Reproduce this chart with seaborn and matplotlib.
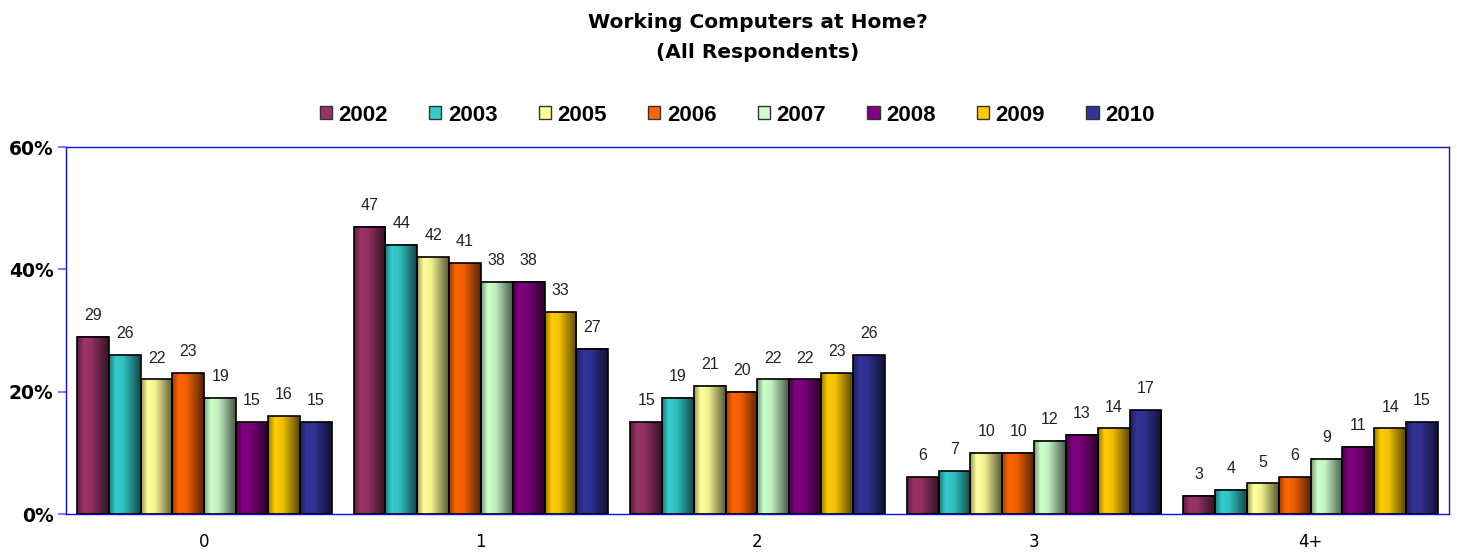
import numpy as np
import pandas as pd
import matplotlib
matplotlib.use("Agg")
import matplotlib.pyplot as plt
import matplotlib.colors as mcolors
from matplotlib.patches import Patch
import seaborn as sns

# ==============================
# Data
# ==============================

CATEGORIES = ["0", "1", "2", "3", "4+"]
YEARS = ["2002", "2003", "2005", "2006", "2007", "2008", "2009", "2010"]

Y2002 = [29, 47, 15, 6, 3]
Y2003 = [26, 44, 19, 7, 4]
Y2005 = [22, 42, 21, 10, 5]
Y2006 = [23, 41, 20, 10, 6]
Y2007 = [19, 38, 22, 12, 9]
Y2008 = [15, 38, 22, 13, 11]
Y2009 = [16, 33, 23, 14, 14]
Y2010 = [15, 27, 26, 17, 15]

COLORS = ["#993366", "#33CCCC", "#FFFF99", "#FF6600",
          "#CCFFCC", "#800080", "#FFCC00", "#333399"]

Y_TICKS = [0, 20, 40, 60]

TITLE = "Working Computers at Home?\n(All Respondents)"
AXIS_BLUE = "#1010E0"


def build_frame():
    series = [Y2002, Y2003, Y2005, Y2006, Y2007, Y2008, Y2009, Y2010]
    rows = []
    for year, values in zip(YEARS, series):
        for cat, val in zip(CATEGORIES, values):
            rows.append({"computers": cat, "year": year, "pct": val})
    return pd.DataFrame(rows)


def shade_bars(ax):
    """
    Paint a cylinder-like gradient on every bar.
    """
    profile = np.concatenate([
        np.linspace(0.6, 1.0, 14),
        np.linspace(1.0, 0.95, 14),
        np.linspace(0.95, 0.35, 36),
    ])
    for patch in ax.patches:
        w = patch.get_width()
        h = patch.get_height()
        if h <= 0:
            continue
        x0 = patch.get_x()
        rgb = np.array(mcolors.to_rgb(patch.get_facecolor()))
        grad = np.clip(rgb[None, None, :] * profile[None, :, None], 0, 1)
        ax.imshow(grad, extent=(x0, x0 + w, 0, h), aspect="auto",
                  interpolation="bilinear", zorder=2)
        patch.set_facecolor("none")
        patch.set_edgecolor("black")
        patch.set_linewidth(1.2)
        patch.set_zorder(3)
        ax.annotate(f"{h:.0f}", (x0 + w / 2, h), xytext=(0, 10),
                    textcoords="offset points", ha="center", va="bottom",
                    fontsize=11.5, family=["Liberation Sans Narrow", "Liberation Sans"],
                    color="#222222")


def main():
    df = build_frame()

    fig = plt.figure(figsize=(14.57, 5.53), dpi=100)
    ax = fig.add_axes([0.0453, 0.0705, 0.9492, 0.6635])

    sns.barplot(data=df, x="computers", y="pct", hue="year",
                palette=COLORS, width=0.92, ax=ax, legend=False,
                saturation=1)

    shade_bars(ax)

    ax.set_xlim(-0.5, len(CATEGORIES) - 0.5)
    ax.set_ylim(0, 60)
    ax.set_yticks(Y_TICKS)
    ax.set_yticklabels([f"{t}%" for t in Y_TICKS], fontsize=13.5,
                       fontweight="bold")
    ax.set_xticks(range(len(CATEGORIES)))
    ax.set_xticklabels(CATEGORIES, fontsize=12)
    ax.tick_params(axis="x", length=0, pad=14)
    ax.tick_params(axis="y", length=6, color="#8080ff", width=1.5, pad=3)
    ax.set_xlabel("")
    ax.set_ylabel("")
    for spine in ax.spines.values():
        spine.set_color(AXIS_BLUE)
        spine.set_linewidth(1.0)

    handles = [Patch(facecolor=c, edgecolor="#333333", linewidth=1.0)
               for c in COLORS]
    fig.legend(handles, YEARS, loc="center", bbox_to_anchor=(0.506, 0.792),
               ncol=8, frameon=False, handlelength=0.55, handleheight=0.55,
               handletextpad=0.3, columnspacing=1.85,
               prop={"family": "Liberation Sans", "size": 16,
                     "weight": "bold"})

    fig.text(0.52, 0.932, TITLE, ha="center", va="center",
             fontsize=14.5, fontweight="bold", linespacing=1.7)

    fig.savefig("out.png", dpi=100)
    plt.close(fig)


if __name__ == "__main__":
    main()
